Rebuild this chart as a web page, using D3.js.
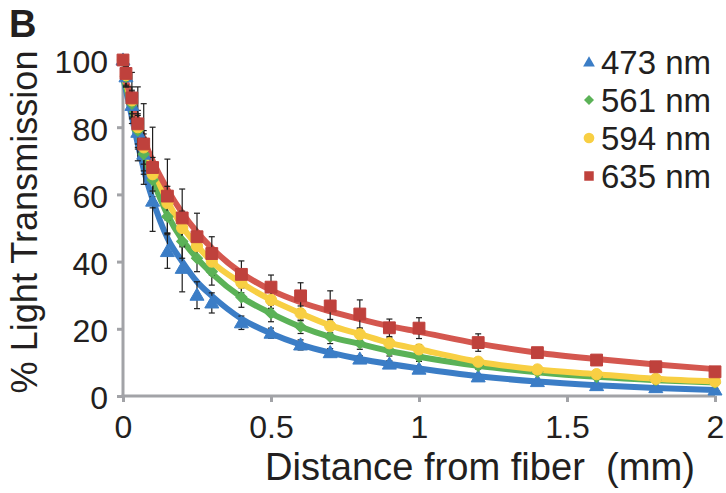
<!DOCTYPE html>
<html>
<head>
<meta charset="utf-8">
<script src="https://cdn.jsdelivr.net/npm/d3@7"></script>
<style>
  html, body { margin: 0; padding: 0; background: #fff; }
  svg { display: block; }
  text { font-family: "Liberation Sans", Arial, sans-serif; fill: #231f20; }
</style>
</head>
<body>
<svg id="chart" width="726" height="493"></svg>
<script>
// Distance from the fiber tip (mm) at which transmission was sampled
const distance = [0, 0.01, 0.03, 0.05, 0.07, 0.1, 0.15, 0.2, 0.25, 0.3, 0.4, 0.5, 0.6, 0.7, 0.8, 0.9, 1.0, 1.2, 1.4, 1.6, 1.8, 2.0];

const wavelengths = ["473 nm", "561 nm", "594 nm", "635 nm"];

// Measured % light transmission (mean) per wavelength
const mean473 = [100, 95, 86.5, 78.5, 72, 58, 43, 38, 30, 27.7, 21.8, 18.7, 15.2, 12.9, 11, 9.5, 8.0, 5.7, 4.3, 3.1, 2.5, 1.8];
const mean561 = [100, 95, 87, 79, 72, 64.3, 53.4, 46, 41, 37, 29.4, 24.6, 20.6, 17.6, 15.7, 13.5, 11.7, 9.0, 7.2, 5.7, 4.8, 4.0];
const mean594 = [100, 95.5, 88, 80, 74, 66, 57.4, 50, 44.6, 40, 33.7, 28.6, 24.6, 20.8, 18.4, 15.7, 13.9, 10.2, 7.9, 6.5, 5.1, 4.3];
const mean635 = [100, 96, 88.7, 81, 75, 68, 59.5, 53, 47.4, 42.4, 36.2, 32.4, 29.8, 26.8, 24.4, 20.3, 20.2, 15.9, 12.9, 10.7, 8.7, 7.2];

// Standard deviations
const sd473 = [0, 3, 4, 5, 6, 9, 5, 7, 4, 3, 2, 1.5, 1.5, 1.2, 1, 1, 0.8, 0.6, 0.5, 0.4, 0.4, 0.3];
const sd561 = [0, 3, 4, 5, 5, 5, 5, 5, 4, 4, 3, 2.5, 2, 2, 1.8, 1.6, 1.4, 1, 0.8, 0.6, 0.5, 0.4];
const sd594 = [0, 3, 4, 5, 5, 5, 5, 5, 4, 4, 3, 2.5, 2.2, 2, 1.8, 1.6, 1.4, 1.1, 0.9, 0.7, 0.6, 0.5];
const sd635 = [0, 2, 7.6, 11, 12, 12, 11, 8.6, 7, 5, 4, 3.6, 3.9, 4.5, 4.2, 2.6, 3.1, 2.6, 1.5, 1, 1, 1];

// Fitted decay curves evaluated at the same distances
const fit473 = [95, 91, 83, 75, 67.5, 58.5, 47, 40, 34, 29.8, 23, 18.6, 15.3, 12.9, 11, 9.5, 8.2, 5.9, 4.3, 3.2, 2.4, 1.8];
const fit561 = [95, 92, 85, 78.5, 72, 64.5, 54, 46.5, 41, 36.5, 29.4, 24.6, 20.6, 17.6, 15.5, 13.4, 11.7, 9.0, 7.1, 5.7, 4.7, 4.0];
const fit594 = [95, 93, 87, 81, 75, 68, 58, 50.5, 44.8, 40, 33.6, 28.6, 24.6, 21, 18.4, 15.8, 13.9, 10.2, 7.9, 6.5, 5.1, 4.3];
const fit635 = [95, 93.5, 88, 82, 76.5, 70, 61.5, 54.5, 48.8, 44, 36.6, 31.5, 27.9, 25.2, 22.9, 20.8, 19.1, 15.6, 12.9, 11, 9.4, 8.0];

const xTicks = [0, 0.5, 1, 1.5, 2];
const yTicks = [0, 20, 40, 60, 80, 100];

const series = [
  { name: wavelengths[0], mean: mean473, sd: sd473, fit: fit473, line: "#3b7dc6", mark: "#3b7dc6", shape: "triangle" },
  { name: wavelengths[1], mean: mean561, sd: sd561, fit: fit561, line: "#5bb257", mark: "#5bb257", shape: "diamond" },
  { name: wavelengths[2], mean: mean594, sd: sd594, fit: fit594, line: "#f8cf43", mark: "#f8cf43", shape: "circle" },
  { name: wavelengths[3], mean: mean635, sd: sd635, fit: fit635, line: "#d4574f", mark: "#bf413c", shape: "square" }
];

const svg = d3.select("#chart");
const x = d3.scaleLinear().domain([0, 2]).range([123, 715]);
const y = d3.scaleLinear().domain([0, 100]).range([396, 60]);

const axisColor = "#a2a3a7";

// Scale a text's font size so that it spans the given width
function fitWidth(sel, width) {
  const base = parseFloat(sel.style("font-size"));
  const len = sel.node().getComputedTextLength();
  sel.style("font-size", (base * width / len).toFixed(2) + "px");
}

// Panel letter
svg.append("text")
  .attr("x", 9).attr("y", 37)
  .style("font-weight", "bold")
  .style("font-size", "38px")
  .text("B");

// Axes
const xAxis = svg.append("g")
  .attr("transform", `translate(0,${y(0)})`)
  .call(d3.axisBottom(x).tickValues(xTicks).tickFormat(d3.format("")).tickSizeInner(6).tickSizeOuter(0).tickPadding(13));
const yAxis = svg.append("g")
  .attr("transform", `translate(${x(0)},0)`)
  .call(d3.axisLeft(y).tickValues(yTicks).tickSizeInner(6).tickSizeOuter(0).tickPadding(9));

[xAxis, yAxis].forEach(g => {
  g.attr("font-family", null).attr("font-size", null);
  g.select(".domain").attr("stroke", axisColor).attr("stroke-width", 3);
  g.selectAll(".tick line").attr("stroke", axisColor).attr("stroke-width", 3);
  g.selectAll(".tick text").style("font-size", "32px").attr("fill", "#231f20");
});
yAxis.selectAll(".tick text").attr("dy", "0.4em");
yAxis.select(".domain").attr("d", `M0,${y(0) + 1.5}V${y(100)}`);
xAxis.select(".domain").attr("d", `M${x(0) - 1.5},0H${x(2)}`);

// Axis titles
const yTitle = svg.append("text")
  .attr("transform", `translate(37,${(y(0) + y(100)) / 2 - 6}) rotate(-90)`)
  .attr("text-anchor", "middle")
  .style("font-size", "34px")
  .text("% Light Transmission");
fitWidth(yTitle, 343);

const xTitle = svg.append("text")
  .attr("x", 480).attr("y", 480)
  .attr("text-anchor", "middle")
  .style("font-size", "34px")
  .style("white-space", "pre")
  .text("Distance from fiber  (mm)");
fitWidth(xTitle, 430);

// Fitted curves
const line = d3.line()
  .x((d, i) => x(distance[i]))
  .y(d => y(d))
  .curve(d3.curveMonotoneX);

const plot = svg.append("g");
series.forEach(s => {
  plot.append("path")
    .attr("d", line(s.fit))
    .attr("fill", "none")
    .attr("stroke", s.line)
    .attr("stroke-width", 6)
    .attr("stroke-linejoin", "round")
    .attr("stroke-linecap", "round");
});

// Error bars
const capHalf = 3;
series.forEach(s => {
  const g = plot.append("g").attr("stroke", "#1e1e1e").attr("stroke-width", 1.2);
  s.mean.forEach((m, i) => {
    if (!s.sd[i]) return;
    const cx = x(distance[i]);
    const y1 = y(m + s.sd[i]), y2 = y(m - s.sd[i]);
    g.append("line").attr("x1", cx).attr("x2", cx).attr("y1", y1).attr("y2", y2);
    g.append("line").attr("x1", cx - capHalf).attr("x2", cx + capHalf).attr("y1", y1).attr("y2", y1);
    g.append("line").attr("x1", cx - capHalf).attr("x2", cx + capHalf).attr("y1", y2).attr("y2", y2);
  });
});

// Marker shapes
const symbolFor = {
  triangle: d3.symbol().type(d3.symbolTriangle).size(85),
  diamond: d3.symbol().type(d3.symbolSquare).size(64),
  circle: d3.symbol().type(d3.symbolCircle).size(100),
  square: d3.symbol().type(d3.symbolSquare).size(140)
};
const rotFor = { triangle: 0, diamond: 45, circle: 0, square: 0 };
const offFor = { triangle: 1, diamond: 0, circle: 0, square: 0 };

series.forEach(s => {
  plot.append("g").selectAll("path")
    .data(s.mean)
    .join("path")
    .attr("d", symbolFor[s.shape]())
    .attr("transform", (d, i) => `translate(${x(distance[i])},${y(d) + offFor[s.shape]}) rotate(${rotFor[s.shape]})`)
    .attr("fill", s.mark)
    .attr("stroke", s.mark)
    .attr("stroke-width", 1)
    .attr("stroke-linejoin", "round");
});

// Legend
const legend = svg.append("g");
series.forEach((s, i) => {
  const cy = 62 + i * 38;
  const lsym = {
    triangle: d3.symbol().type(d3.symbolTriangle).size(60),
    diamond: d3.symbol().type(d3.symbolSquare).size(50),
    circle: d3.symbol().type(d3.symbolCircle).size(90),
    square: d3.symbol().type(d3.symbolSquare).size(90)
  }[s.shape];
  legend.append("path")
    .attr("d", lsym())
    .attr("transform", `translate(589,${cy + offFor[s.shape]}) rotate(${rotFor[s.shape]})`)
    .attr("fill", s.mark);
  legend.append("text")
    .attr("x", 601).attr("y", cy)
    .attr("dy", "0.36em")
    .style("font-size", "33px")
    .text(s.name);
});
</script>
</body>
</html>
